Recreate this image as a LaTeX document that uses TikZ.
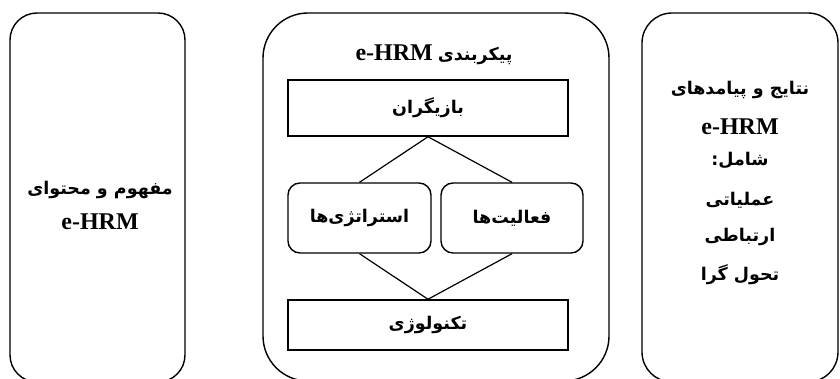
\documentclass[tikz,border=0pt]{standalone}
\usepackage{fontspec}
\setmainfont{Liberation Serif}
\newfontfamily\farsi[Script=Arabic]{DejaVu Sans}
\TeXXeTstate=1
\usepackage{tikz}
\usetikzlibrary{calc,positioning}

\newcommand{\fa}[1]{{\farsi\bfseries\fontsize{17.5}{21}\selectfont\beginR #1\endR}}
\newcommand{\en}[1]{{\bfseries\fontsize{24}{28}\selectfont #1}}

\tikzset{
  panel/.style={draw,line width=1.4pt,rounded corners=#1,inner sep=0pt},
  flatbox/.style={draw,line width=1.5pt,inner sep=0pt},
  roundbox/.style={draw,line width=1.4pt,rounded corners=12pt,inner sep=0pt},
  link/.style={line width=1.2pt}
}

\begin{document}
\begin{tikzpicture}[x=1pt,y=-1pt]
          \useasboundingbox (0,0) rectangle (840,379);
          % three panels
          \draw[panel=27pt] (10,13) rectangle (185,382);
          \draw[panel=45pt] (263,13) rectangle (609,381);
          \draw[panel=30pt] (642,13) rectangle (838,382);
          % left panel
          \node (concept) at (100,190){\fa{مفهوم و محتوای}};
          \node (conceptb) at (100,222){\en{e-HRM}};
          % middle panel
          \node (config) at (434,55){\beginR\fa{پیکربندی}\ \ \beginL\en{e-HRM}\endL\endR};
          \node[flatbox,minimum width=280pt,minimum height=56pt] (actors) at (428,108){\fa{بازیگران}};
          \node[roundbox,minimum width=143pt,minimum height=70pt] (strat) at (359.5,218){\fa{استراتژی‌ها}};
          \node[roundbox,minimum width=142pt,minimum height=70pt] (activ) at (512,218){\fa{فعالیت‌ها}};
          \node[flatbox,minimum width=280pt,minimum height=50pt] (tech) at (428,325){\fa{تکنولوژی}};
          \draw[link] (actors.south) -- (strat.north);
          \draw[link] (actors.south) -- (activ.north);
          \draw[link] (strat.south) -- (tech.north);
          \draw[link] (activ.south) -- (tech.north);
          % right panel
          \node (result) at (740,90){\fa{نتایج و پیامدهای}};
          \node (resultb) at (740,127){\en{e-HRM}};
          \node (incl) at (740,160){\fa{شامل:}};
          \node (oper) at (740,200){\fa{عملیاتی}};
          \node (comm) at (740,237){\fa{ارتباطی}};
          \node (trans) at (740,275){\fa{تحول گرا}};
        \end{tikzpicture}
\end{document}
